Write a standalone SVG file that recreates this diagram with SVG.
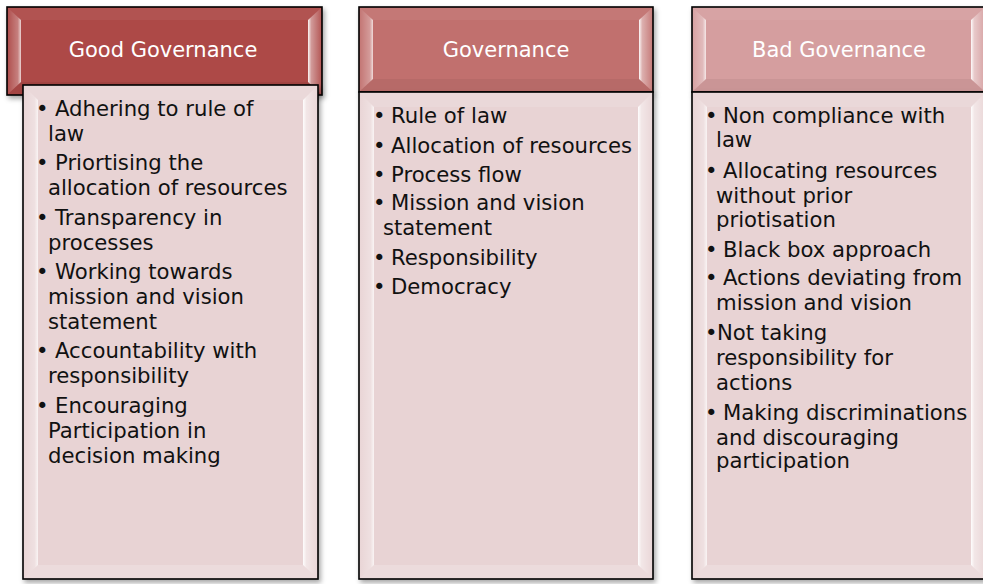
<svg xmlns="http://www.w3.org/2000/svg" width="983" height="584" viewBox="0 0 983 584">
<style>
  .frame{stroke:#000;stroke-width:1.6}
  .body{fill:#E8D3D4}
  .h1{fill:#AD4947}
  .h2{fill:#C1706E}
  .h3{fill:#D59E9F}
  .ht{font-family:"DejaVu Sans",Verdana,sans-serif;font-size:21px;fill:#fff;text-anchor:middle}
  .bt{font-family:"DejaVu Sans",Verdana,sans-serif;font-size:21.2px;fill:#111}
</style>
<defs>
  <filter id="sh" x="-10%" y="-10%" width="125%" height="125%">
    <feDropShadow dx="2" dy="3" stdDeviation="2.5" flood-color="#000" flood-opacity="0.35"/>
  </filter>
  <linearGradient id="gl" x1="0" y1="0" x2="1" y2="0">
    <stop offset="0" stop-color="#fff" stop-opacity="0.05"/>
    <stop offset="0.75" stop-color="#fff" stop-opacity="0.3"/>
    <stop offset="1" stop-color="#fff" stop-opacity="0.75"/>
  </linearGradient>
  <linearGradient id="gr" x1="0" y1="0" x2="1" y2="0">
    <stop offset="0" stop-color="#fff" stop-opacity="0.95"/>
    <stop offset="0.25" stop-color="#fff" stop-opacity="0.45"/>
    <stop offset="1" stop-color="#fff" stop-opacity="0.1"/>
  </linearGradient>
</defs>

<g id="connectors"></g>

<g id="node-good">
  <rect class="h1 frame" x="7" y="7" width="315" height="88" filter="url(#sh)"/>
  <polygon points="8,8 21,20 21,82 8,94" fill="url(#gl)"/>
  <polygon points="308,20 321,8 321,94 308,82" fill="url(#gr)"/>
  <polygon points="8,8 321,8 308,20 21,20" fill="#fff" fill-opacity="0.06"/>
  <polygon points="8,94 21,82 308,82 321,94" fill="#000" fill-opacity="0.05"/>
  <text class="ht" x="163" y="57">Good Governance</text>
  <rect class="body frame" x="23" y="85" width="295" height="494" filter="url(#sh)"/>
  <polygon points="24,86 38,100 38,565 24,578" fill="url(#gl)"/>
  <polygon points="303,100 317,86 317,578 303,565" fill="url(#gr)"/>
  <polygon points="24,86 317,86 303,100 38,100" fill="#fff" fill-opacity="0.12"/>
  <polygon points="24,578 38,565 303,565 317,578" fill="#fff" fill-opacity="0.2"/>
  <text class="bt" x="36" y="116">•</text><text class="bt" x="55" y="116">Adhering to rule of</text>
  <text class="bt" x="48" y="141">law</text>
  <text class="bt" x="36" y="170">•</text><text class="bt" x="55" y="170">Priortising the</text>
  <text class="bt" x="48" y="195">allocation of resources</text>
  <text class="bt" x="36" y="225">•</text><text class="bt" x="55" y="225">Transparency in</text>
  <text class="bt" x="48" y="250">processes</text>
  <text class="bt" x="36" y="279">•</text><text class="bt" x="55" y="279">Working towards</text>
  <text class="bt" x="48" y="304">mission and vision</text>
  <text class="bt" x="48" y="329">statement</text>
  <text class="bt" x="36" y="358">•</text><text class="bt" x="55" y="358">Accountability with</text>
  <text class="bt" x="48" y="383">responsibility</text>
  <text class="bt" x="36" y="413">•</text><text class="bt" x="55" y="413">Encouraging</text>
  <text class="bt" x="48" y="438">Participation in</text>
  <text class="bt" x="48" y="463">decision making</text>
</g>

<g id="node-governance">
  <rect class="h2 frame" x="359" y="7" width="294" height="85" filter="url(#sh)"/>
  <polygon points="360,8 373,20 373,79 360,91" fill="url(#gl)"/>
  <polygon points="639,20 652,8 652,91 639,79" fill="url(#gr)"/>
  <polygon points="360,8 652,8 639,20 373,20" fill="#fff" fill-opacity="0.06"/>
  <polygon points="360,91 373,79 639,79 652,91" fill="#000" fill-opacity="0.05"/>
  <text class="ht" x="506" y="57">Governance</text>
  <rect class="body frame" x="359" y="92" width="294" height="487" filter="url(#sh)"/>
  <polygon points="360,93 374,107 374,565 360,578" fill="url(#gl)"/>
  <polygon points="638,107 652,93 652,578 638,565" fill="url(#gr)"/>
  <polygon points="360,93 652,93 638,107 374,107" fill="#fff" fill-opacity="0.12"/>
  <polygon points="360,578 374,565 638,565 652,578" fill="#fff" fill-opacity="0.2"/>
  <text class="bt" x="373" y="123">•</text><text class="bt" x="391" y="123">Rule of law</text>
  <text class="bt" x="373" y="153">•</text><text class="bt" x="391" y="153">Allocation of resources</text>
  <text class="bt" x="373" y="182">•</text><text class="bt" x="391" y="182">Process flow</text>
  <text class="bt" x="373" y="210">•</text><text class="bt" x="391" y="210">Mission and vision</text>
  <text class="bt" x="383" y="235">statement</text>
  <text class="bt" x="373" y="265">•</text><text class="bt" x="391" y="265">Responsibility</text>
  <text class="bt" x="373" y="294">•</text><text class="bt" x="391" y="294">Democracy</text>
</g>

<g id="node-bad">
  <rect class="h3 frame" x="692" y="7" width="294" height="85" filter="url(#sh)"/>
  <polygon points="693,8 706,20 706,79 693,91" fill="url(#gl)"/>
  <polygon points="971,20 984,8 984,91 971,79" fill="url(#gr)"/>
  <polygon points="693,8 984,8 971,20 706,20" fill="#fff" fill-opacity="0.06"/>
  <polygon points="693,91 706,79 971,79 984,91" fill="#000" fill-opacity="0.05"/>
  <text class="ht" x="839" y="57">Bad Governance</text>
  <rect class="body frame" x="692" y="92" width="294" height="487" filter="url(#sh)"/>
  <polygon points="693,93 707,107 707,565 693,578" fill="url(#gl)"/>
  <polygon points="971,107 985,93 985,578 971,565" fill="url(#gr)"/>
  <polygon points="693,93 985,93 971,107 707,107" fill="#fff" fill-opacity="0.12"/>
  <polygon points="693,578 707,565 971,565 985,578" fill="#fff" fill-opacity="0.2"/>
  <text class="bt" x="705" y="123">•</text><text class="bt" x="723" y="123">Non compliance with</text>
  <text class="bt" x="716" y="147">law</text>
  <text class="bt" x="705" y="178">•</text><text class="bt" x="723" y="178">Allocating resources</text>
  <text class="bt" x="716" y="203">without prior</text>
  <text class="bt" x="716" y="227">priotisation</text>
  <text class="bt" x="705" y="257">•</text><text class="bt" x="723" y="257">Black box approach</text>
  <text class="bt" x="705" y="285">•</text><text class="bt" x="723" y="285">Actions deviating from</text>
  <text class="bt" x="716" y="310">mission and vision</text>
  <text class="bt" x="705" y="340">•</text><text class="bt" x="717" y="340">Not taking</text>
  <text class="bt" x="716" y="365">responsibility for</text>
  <text class="bt" x="716" y="390">actions</text>
  <text class="bt" x="705" y="420">•</text><text class="bt" x="723" y="420">Making discriminations</text>
  <text class="bt" x="716" y="445">and discouraging</text>
  <text class="bt" x="716" y="468">participation</text>
</g>
</svg>
